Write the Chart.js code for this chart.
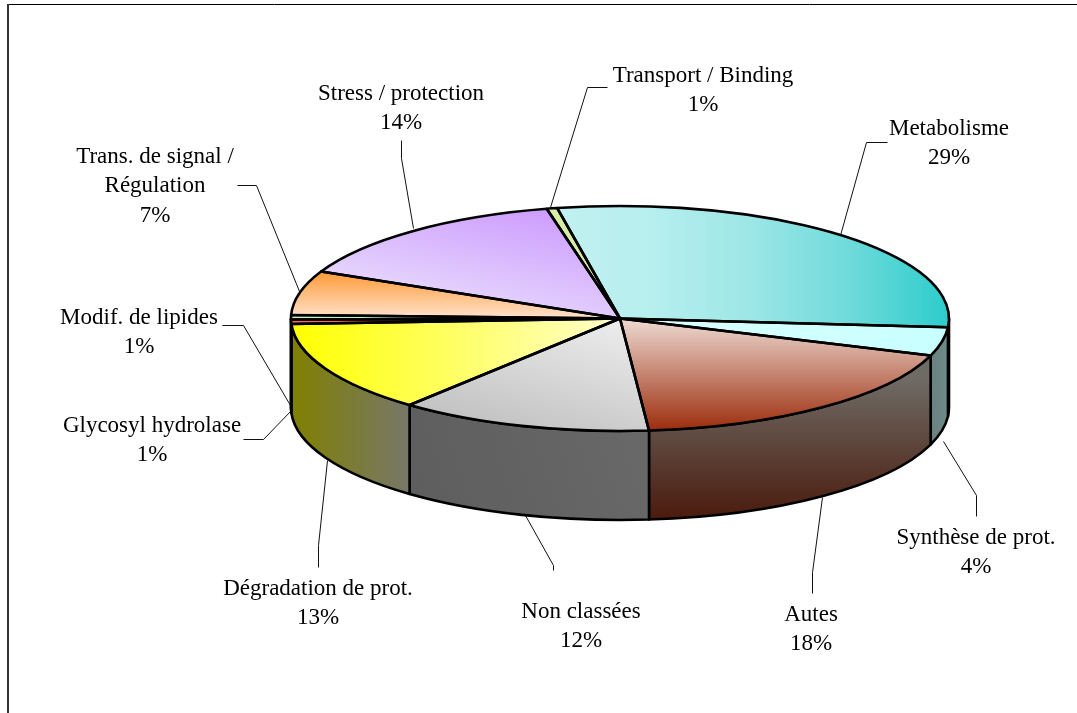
<!DOCTYPE html>
<html><head><meta charset="utf-8">
<style>html,body{margin:0;padding:0;background:#fff;overflow:hidden}canvas{display:block}</style>
<script src="https://cdn.jsdelivr.net/npm/chart.js@4"></script>
</head><body>
<canvas id="c" width="1077" height="713"></canvas>
<script>
// Data
const categories = ["Metabolisme","Synthèse de prot.","Autes","Non classées","Dégradation de prot.","Glycosyl hydrolase","Modif. de lipides","Trans. de signal / Régulation","Stress / protection","Transport / Binding"];
const sliceValues = [29.3,4.1,18.25,12.45,13.18,0.64,0.64,6.36,14.56,0.52];
const percentLabels = ["29%","4%","18%","12%","13%","1%","1%","7%","14%","1%"];

// Presentation
const labelLines = [["Metabolisme"],["Synthèse de prot."],["Autes"],["Non classées"],["Dégradation de prot."],["Glycosyl hydrolase"],["Modif. de lipides"],["Trans. de signal /","Régulation"],["Stress / protection"],["Transport / Binding"]];
const labelAnchors = [[949,128.5],[976,537.5],[811,614.5],[581,611.5],[318,588.5],[152,425.5],[139,317.5],[155,156.5],[401,93.5],[703,75.5]];
const leaders = [
 [[887,142],[866,142],[840,235]],
 [[976,516],[976,495],[943,441]],
 [[812,593],[812,572],[822,497]],
 [[553,570],[553,565],[525,515]],
 [[318,567],[318,545],[327,460]],
 [[243,439],[263,439],[291,410]],
 [[222,325],[243,325],[290,405]],
 [[237,185],[256,185],[299,291]],
 [[401,140],[401,158],[413,228]],
 [[607,87],[587,87],[550,207]]
];
const SCREEN_CY = 318.5, RADIUS = 329, RY = 112.5, DEPTH = 89, ROTATION = -11;
const K = RY / RADIUS, PIE_CY = 356.5;
const FONT = '23px "Liberation Serif"';

const canvas = document.getElementById('c');
const g2d = canvas.getContext('2d');
function grad(x0,y0,x1,y1,stops,flatten){
  const m = y => flatten ? PIE_CY + (y - SCREEN_CY) / K : y;
  const g = g2d.createLinearGradient(x0,m(y0),x1,m(y1));
  stops.forEach((c,i)=>g.addColorStop(i/(stops.length-1),c));
  return g;
}
const topFills = [
 grad(557,0,949,0,["#c2f1f1","#b6eeee","#9ce6e6","#6edada","#2dcccc"],true),
 grad(620,0,949,0,["#dcffff","#c8ffff"],true),
 grad(0,320,0,431,["#ecd8d0","#9c2c0c"],true),
 grad(650,330,420,430,["#ececec","#bcbcbc"],true),
 grad(291,0,620,0,["#ffff00","#ffffcc"],true),
 "#ff6666","#c8f2c8",
 grad(0,271,0,318,["#ff9933","#ffe2cc"],true),
 grad(560,205,380,300,["#cc99ff","#e8dcfc"],true),
 "#d8eca4"
];
const sideFills = [
 "#1a6868",
 grad(932,0,949,0,["#6a8280","#6e8c8a"],false),
 grad(0,380,0,520,["#6e6a64","#4a1a0c"],false),
 grad(640,430,420,500,["#686868","#5e5e5e"],false),
 grad(291,0,408,0,["#808000","#777768"],false),
 "#803333","#648064","#806633","#664c80","#6c7652"
];

function applyFlatten(ctx, arc){
  ctx.translate(arc.x, SCREEN_CY);
  ctx.scale(1, K);
  ctx.translate(-arc.x, -arc.y);
}
const pie3d = {
  id:'pie3d',
  beforeDraw(chart){
    const ctx = chart.ctx;
    ctx.save();
    ctx.strokeStyle='#000'; ctx.lineWidth=1;
    ctx.beginPath(); ctx.moveTo(7,4.5); ctx.lineTo(1077,4.5); ctx.stroke();
    ctx.strokeStyle='#333'; ctx.lineWidth=2;
    ctx.beginPath(); ctx.moveTo(8,4); ctx.lineTo(8,713); ctx.stroke();
    ctx.restore();
  },
  beforeDatasetsDraw(chart){
    const ctx = chart.ctx, arcs = chart.getDatasetMeta(0).data;
    ctx.save();
    ctx.lineWidth=2.6; ctx.strokeStyle='#000'; ctx.lineJoin='round';
    arcs.forEach((el,i)=>{
      const p = el.getProps(['x','startAngle','endAngle','outerRadius'],true);
      const T = Math.PI*2;
      for (const off of [0,T,-T]){
        const a = Math.max(p.startAngle+off,0), b = Math.min(p.endAngle+off,Math.PI);
        if (b<=a) continue;
        ctx.beginPath();
        ctx.ellipse(p.x,SCREEN_CY,p.outerRadius,RY,0,a,b);
        ctx.ellipse(p.x,SCREEN_CY+DEPTH,p.outerRadius,RY,0,b,a,true);
        ctx.closePath();
        ctx.fillStyle = sideFills[i];
        ctx.fill(); ctx.stroke();
      }
    });
    ctx.restore();
    const first = arcs[0].getProps(['x','y'],true);
    ctx.save();
    applyFlatten(ctx, first);
  },
  afterDatasetsDraw(chart){
    const ctx = chart.ctx, arcs = chart.getDatasetMeta(0).data;
    ctx.restore();
    ctx.save();
    ctx.lineWidth=2.6; ctx.strokeStyle='#000'; ctx.lineJoin='round';
    arcs.forEach(el=>{
      const p = el.getProps(['x','startAngle','endAngle','outerRadius'],true);
      ctx.beginPath();
      ctx.moveTo(p.x,SCREEN_CY);
      ctx.ellipse(p.x,SCREEN_CY,p.outerRadius,RY,0,p.startAngle,p.endAngle);
      ctx.closePath();
      ctx.stroke();
    });
    ctx.lineWidth=1; ctx.strokeStyle='#111';
    leaders.forEach(l=>{
      ctx.beginPath();
      l.forEach((pt,i)=> i?ctx.lineTo(pt[0]+.5,pt[1]+.5):ctx.moveTo(pt[0]+.5,pt[1]+.5));
      ctx.stroke();
    });
    ctx.fillStyle='#000'; ctx.font=FONT; ctx.textAlign='center'; ctx.textBaseline='middle';
    categories.forEach((_,i)=>{
      const lines = labelLines[i].concat(percentLabels[i]);
      lines.forEach((t,j)=>ctx.fillText(t,labelAnchors[i][0],labelAnchors[i][1]+j*29.7));
    });
    ctx.restore();
  }
};

new Chart(canvas,{
  type:'pie',
  data:{labels:categories,datasets:[{data:sliceValues,backgroundColor:topFills,borderWidth:0,clip:false}]},
  options:{
    responsive:false,animation:false,rotation:ROTATION,radius:RADIUS,
    layout:{padding:{left:163,right:0,top:0,bottom:0}},
    events:[],
    plugins:{legend:{display:false},tooltip:{enabled:false}}
  },
  plugins:[pie3d]
});
</script>
</body></html>
